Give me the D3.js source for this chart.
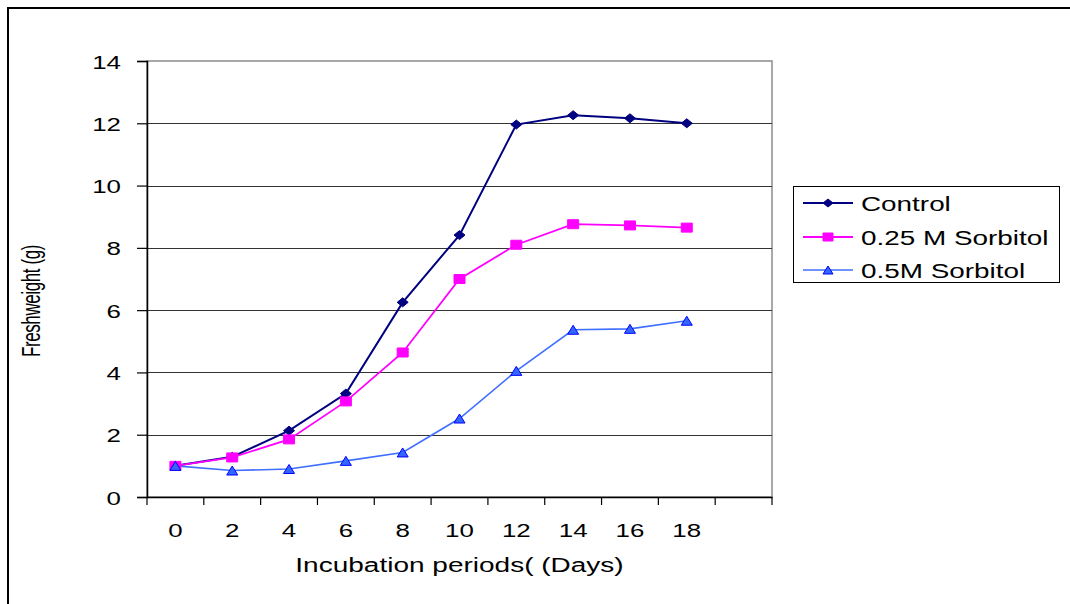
<!DOCTYPE html>
<html>
<head>
<meta charset="utf-8">
<script src="https://cdn.jsdelivr.net/npm/d3@7"></script>
<style>
  html, body { margin: 0; padding: 0; background: #fff; }
  svg { display: block; font-family: "Liberation Sans", Arial, sans-serif; }
</style>
</head>
<body>
<svg id="chart" width="1070" height="604"></svg>
<script>
// Incubation days (categories) and fresh weight (g) per treatment
const days = [0, 2, 4, 6, 8, 10, 12, 14, 16, 18];
const control = [1.0, 1.29, 2.13, 3.32, 6.25, 8.41, 11.96, 12.26, 12.16, 12.0];
const sorbitol025 = [1.0, 1.27, 1.85, 3.07, 4.64, 7.0, 8.1, 8.76, 8.72, 8.65];
const sorbitol05 = [1.0, 0.85, 0.9, 1.16, 1.43, 2.52, 4.05, 5.37, 5.4, 5.66];
const yTicks = [0, 2, 4, 6, 8, 10, 12, 14];
const seriesNames = ["Control", "0.25 M Sorbitol", "0.5M Sorbitol"];

const svg = d3.select("#chart");
const plot = { left: 147, right: 772, top: 61, bottom: 497 };
const stretch = 1.4; // wide glyphs used throughout the chart

// Outer chart frame
svg.append("rect")
  .attr("x", 8).attr("y", 8).attr("width", 1100).attr("height", 640)
  .attr("fill", "none").attr("stroke", "#000").attr("stroke-width", 2);

// Ten day slots plus one trailing empty slot on the category axis
const slots = d3.range(days.length + 1);
const x = d3.scaleBand().domain(slots).range([plot.left, plot.right]).padding(0);
const xc = i => x(i) + x.bandwidth() / 2;
const y = d3.scaleLinear().domain([0, 14]).range([plot.bottom, plot.top]);

// Plot area border
svg.append("rect")
  .attr("x", plot.left).attr("y", plot.top)
  .attr("width", plot.right - plot.left).attr("height", plot.bottom - plot.top)
  .attr("fill", "none").attr("stroke", "#8c8c8c").attr("stroke-width", 1.5);

// Horizontal gridlines
svg.append("g").selectAll("line")
  .data(yTicks.filter(v => v > 0 && v < 14))
  .join("line")
  .attr("x1", plot.left).attr("x2", plot.right)
  .attr("y1", d => Math.round(y(d)) + 0.5).attr("y2", d => Math.round(y(d)) + 0.5)
  .attr("stroke", "#333").attr("stroke-width", 1);

// Y axis
const yAxis = svg.append("g")
  .attr("transform", `translate(${plot.left},0)`)
  .call(d3.axisLeft(y).tickValues(yTicks).tickSize(10).tickFormat(d3.format("d")));
yAxis.select(".domain").attr("stroke", "#000").attr("stroke-width", 1.5);
yAxis.selectAll(".tick line").attr("stroke", "#000").attr("stroke-width", 1.2);
yAxis.selectAll(".tick text")
  .attr("x", -26 / stretch).attr("dy", "0.38em")
  .attr("transform", `scale(${stretch},1)`)
  .attr("font-size", 18.5).attr("fill", "#000")
  .attr("font-family", "Liberation Sans, Arial, sans-serif");

// X axis: labels centred in each slot, tick marks on slot boundaries
const xAxis = svg.append("g")
  .attr("transform", `translate(0,${plot.bottom})`)
  .call(d3.axisBottom(x).tickSize(0).tickFormat(i => i < days.length ? days[i] : ""));
xAxis.select(".domain").attr("stroke", "#000").attr("stroke-width", 1.5);
xAxis.selectAll(".tick text")
  .attr("y", 40).attr("dy", 0)
  .attr("transform", `scale(${stretch},1)`)
  .attr("font-size", 18.5).attr("fill", "#000")
  .attr("font-family", "Liberation Sans, Arial, sans-serif");
xAxis.append("g").selectAll("line")
  .data(d3.range(slots.length + 1))
  .join("line")
  .attr("x1", i => i < slots.length ? x(i) : plot.right)
  .attr("x2", i => i < slots.length ? x(i) : plot.right)
  .attr("y1", 0).attr("y2", 8)
  .attr("stroke", "#000").attr("stroke-width", 1.2);

// Axis titles
svg.append("text")
  .attr("transform", `translate(${(plot.left + plot.right) / 2},572) scale(${stretch},1)`)
  .attr("text-anchor", "middle").attr("font-size", 20).attr("fill", "#000")
  .text("Incubation periods( (Days)");
svg.append("text")
  .attr("transform", `translate(40,301) scale(1.55,1) rotate(-90)`)
  .attr("text-anchor", "middle").attr("font-size", 17).attr("letter-spacing", -0.4)
  .attr("fill", "#000")
  .text("Freshweight (g)");

// Marker shapes
function markerPath(type, w, h) {
  const a = w / 2, b = h / 2;
  if (type === "diamond") return `M0,${-b}L${a},0L0,${b}L${-a},0Z`;
  if (type === "square") return `M${-a},${-b}H${a}V${b}H${-a}Z`;
  return `M0,${-b}L${a},${b}L${-a},${b}Z`;
}

const series = [
  { name: seriesNames[0], values: control, line: "#000080", fill: "#000080", stroke: "#000080", shape: "diamond", width: 2 },
  { name: seriesNames[1], values: sorbitol025, line: "#ff00ff", fill: "#ff00ff", stroke: "#ff00ff", shape: "square", width: 1.8 },
  { name: seriesNames[2], values: sorbitol05, line: "#3f6fff", fill: "#3366ff", stroke: "#0000ff", shape: "triangle", width: 1.6 }
];

const lineGen = d3.line().x((d, i) => xc(i)).y(d => y(d));

series.forEach(s => {
  svg.append("path")
    .datum(s.values)
    .attr("d", lineGen)
    .attr("fill", "none").attr("stroke", s.line).attr("stroke-width", s.width);
});
series.forEach(s => {
  svg.append("g").selectAll("path")
    .data(s.values)
    .join("path")
    .attr("transform", (d, i) => `translate(${xc(i)},${y(d)})`)
    .attr("d", markerPath(s.shape, 11, 9))
    .attr("fill", s.fill).attr("stroke", s.stroke).attr("stroke-width", 1);
});

// Legend
const legend = svg.append("g");
legend.append("rect")
  .attr("x", 793.5).attr("y", 186.5).attr("width", 266).attr("height", 96)
  .attr("fill", "#fff").attr("stroke", "#000").attr("stroke-width", 1);
const rowY = [203, 237, 270];
series.forEach((s, k) => {
  const g = legend.append("g").attr("transform", `translate(0,${rowY[k]})`);
  g.append("line").attr("x1", 803).attr("x2", 853).attr("y1", 0).attr("y2", 0)
    .attr("stroke", s.line).attr("stroke-width", s.width);
  g.append("path").attr("transform", "translate(828,0)")
    .attr("d", markerPath(s.shape, 10, 8))
    .attr("fill", s.fill).attr("stroke", s.stroke).attr("stroke-width", 1);
  g.append("text")
    .attr("transform", `translate(861,7.5) scale(1.36,1)`)
    .attr("font-size", 20.5).attr("fill", "#000")
    .text(s.name);
});
</script>
</body>
</html>
